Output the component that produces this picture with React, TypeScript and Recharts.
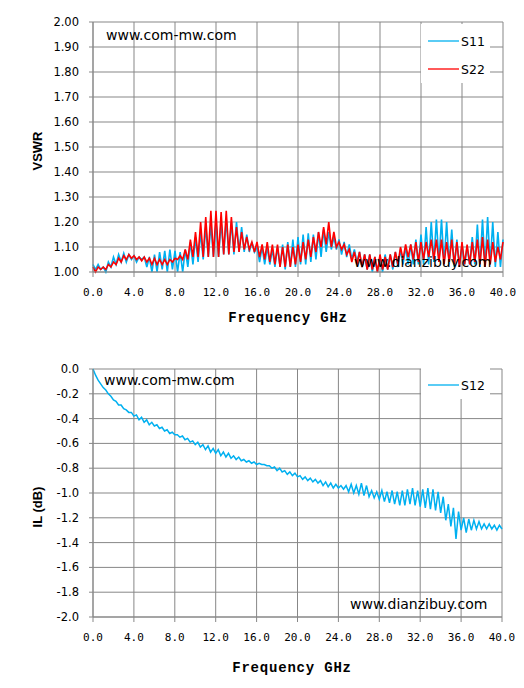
import React from 'react';
import { LineChart, Line, XAxis, YAxis, CartesianGrid, Legend } from 'recharts';

// Frequency axis: samples every 0.25 GHz from 0 to 40 GHz
const FREQ_START = 0;
const FREQ_STEP = 0.25;
const FREQ_TICKS = [0, 4, 8, 12, 16, 20, 24, 28, 32, 36, 40];
const VSWR_TICKS = [1.0, 1.1, 1.2, 1.3, 1.4, 1.5, 1.6, 1.7, 1.8, 1.9, 2.0];
const IL_TICKS = [0, -0.2, -0.4, -0.6, -0.8, -1.0, -1.2, -1.4, -1.6, -1.8, -2.0];

const S11 = [
  1.03, 1.01, 1.03, 1.01, 1.02, 1.00, 1.04, 1.02, 1.06, 1.03, 1.07, 1.04, 1.075, 1.04, 1.07, 1.05,
  1.065, 1.04, 1.06, 1.05, 1.06, 1.02, 1.06, 1.00, 1.07, 1.00, 1.08, 1.01, 1.085, 1.00, 1.09, 1.01,
  1.085, 1.00, 1.08, 1.00, 1.09, 1.02, 1.12, 1.03, 1.14, 1.04, 1.16, 1.05, 1.18, 1.06, 1.19, 1.06,
  1.20, 1.06, 1.20, 1.07, 1.21, 1.07, 1.20, 1.07, 1.20, 1.08, 1.18, 1.08, 1.15, 1.08, 1.12, 1.08,
  1.10, 1.04, 1.10, 1.03, 1.10, 1.03, 1.09, 1.02, 1.10, 1.02, 1.11, 1.01, 1.12, 1.02, 1.13, 1.02,
  1.14, 1.03, 1.15, 1.03, 1.155, 1.04, 1.15, 1.05, 1.16, 1.06, 1.17, 1.08, 1.16, 1.09, 1.14, 1.09,
  1.13, 1.07, 1.12, 1.06, 1.11, 1.05, 1.09, 1.04, 1.08, 1.02, 1.07, 1.01, 1.07, 1.00, 1.06, 1.00,
  1.06, 1.00, 1.07, 1.01, 1.07, 1.01, 1.08, 1.02, 1.09, 1.03, 1.10, 1.03, 1.11, 1.03, 1.13, 1.03,
  1.15, 1.03, 1.18, 1.03, 1.20, 1.04, 1.21, 1.04, 1.21, 1.03, 1.20, 1.03, 1.17, 1.02, 1.13, 1.02,
  1.11, 1.03, 1.10, 1.03, 1.14, 1.03, 1.19, 1.02, 1.21, 1.02, 1.22, 1.03, 1.20, 1.02, 1.16, 1.02,
  1.13,
];

const S22 = [
  1.02, 1.00, 1.02, 1.01, 1.02, 1.01, 1.03, 1.02, 1.04, 1.03, 1.055, 1.04, 1.065, 1.05, 1.07, 1.055,
  1.065, 1.05, 1.06, 1.045, 1.06, 1.04, 1.055, 1.03, 1.055, 1.03, 1.05, 1.03, 1.05, 1.03, 1.05, 1.04,
  1.055, 1.05, 1.065, 1.05, 1.09, 1.05, 1.13, 1.06, 1.16, 1.06, 1.20, 1.06, 1.22, 1.06, 1.245, 1.06,
  1.245, 1.06, 1.24, 1.07, 1.245, 1.07, 1.22, 1.08, 1.18, 1.08, 1.16, 1.09, 1.14, 1.09, 1.12, 1.08,
  1.12, 1.06, 1.11, 1.05, 1.12, 1.04, 1.11, 1.03, 1.11, 1.02, 1.10, 1.02, 1.11, 1.02, 1.10, 1.03,
  1.11, 1.04, 1.12, 1.05, 1.13, 1.06, 1.14, 1.08, 1.16, 1.10, 1.18, 1.11, 1.20, 1.10, 1.16, 1.10,
  1.12, 1.09, 1.11, 1.07, 1.09, 1.04, 1.08, 1.03, 1.08, 1.02, 1.07, 1.01, 1.07, 1.01, 1.06, 1.00,
  1.07, 1.01, 1.06, 1.01, 1.07, 1.02, 1.08, 1.03, 1.10, 1.05, 1.11, 1.06, 1.11, 1.05, 1.12, 1.04,
  1.12, 1.05, 1.12, 1.06, 1.13, 1.05, 1.13, 1.04, 1.13, 1.03, 1.12, 1.04, 1.13, 1.03, 1.12, 1.02,
  1.12, 1.03, 1.11, 1.03, 1.12, 1.04, 1.13, 1.03, 1.14, 1.02, 1.13, 1.03, 1.12, 1.04, 1.10, 1.05,
  1.12,
];

const S12 = [
  0.00, -0.05, -0.09, -0.12, -0.15, -0.17, -0.20, -0.22, -0.25, -0.26, -0.29, -0.29, -0.32, -0.33, -0.35, -0.35,
  -0.38, -0.37, -0.41, -0.39, -0.43, -0.41, -0.45, -0.43, -0.46, -0.45, -0.48, -0.47, -0.50, -0.49, -0.52, -0.51,
  -0.53, -0.53, -0.55, -0.54, -0.57, -0.56, -0.59, -0.58, -0.61, -0.59, -0.63, -0.61, -0.65, -0.62, -0.67, -0.64,
  -0.68, -0.65, -0.70, -0.67, -0.71, -0.68, -0.72, -0.70, -0.73, -0.71, -0.74, -0.73, -0.75, -0.74, -0.76, -0.75,
  -0.77, -0.76, -0.77, -0.77, -0.78, -0.78, -0.80, -0.79, -0.82, -0.80, -0.83, -0.82, -0.85, -0.83, -0.86, -0.84,
  -0.87, -0.86, -0.89, -0.87, -0.90, -0.88, -0.91, -0.89, -0.92, -0.90, -0.94, -0.91, -0.95, -0.92, -0.96, -0.93,
  -0.96, -0.94, -0.97, -0.94, -0.99, -0.93, -1.00, -0.94, -1.01, -0.92, -1.02, -0.94, -1.03, -0.98, -1.04, -0.99,
  -1.05, -0.98, -1.07, -0.99, -1.08, -0.98, -1.09, -0.99, -1.10, -0.98, -1.10, -0.97, -1.09, -0.96, -1.10, -0.98,
  -1.11, -0.97, -1.12, -0.96, -1.13, -0.97, -1.14, -0.99, -1.16, -1.03, -1.22, -1.09, -1.27, -1.12, -1.37, -1.15,
  -1.30, -1.20, -1.32, -1.21, -1.30, -1.22, -1.29, -1.23, -1.29, -1.25, -1.29, -1.25, -1.29, -1.26, -1.30, -1.26,
  -1.29,
];

const BLUE = '#00B0F0';
const RED = '#FF0000';
const GRID = '#878787';

const vswrData = S11.map((v, i) => ({ f: FREQ_START + i * FREQ_STEP, s11: v, s22: S22[i] }));
const ilData = S12.map((v, i) => ({ f: FREQ_START + i * FREQ_STEP, s12: v }));

const yTickStyle = { fill: '#000', fontSize: 11.5, fontFamily: 'DejaVu Sans' };
const xTickStyle = { fill: '#000', fontSize: 11, fontFamily: 'DejaVu Sans Mono' };
const watermarkStyle: React.CSSProperties = { fontFamily: 'DejaVu Sans', fontSize: 14, fill: '#000' };

const freqTitle = (x: number, y: number) => () => (
  <text x={x} y={y} textAnchor="middle" fontFamily="Liberation Mono" fontWeight="bold" fontSize={14} letterSpacing={0.8} fill="#000">
    Frequency GHz
  </text>
);

const yTitle = (text: string, x: number, y: number) => () => (
  <text x={x} y={y} transform={`rotate(-90, ${x}, ${y})`} textAnchor="middle" dominantBaseline="central" fontFamily="Liberation Sans" fontWeight="bold" fontSize={13} fill="#000">
    {text}
  </text>
);

const makeLegend = (items: { name: string; color: string }[], rowGap: number) => () => (
  <div style={{ background: '#fff', width: '100%', height: '100%', paddingTop: 8, boxSizing: 'border-box' }}>
    {items.map((it) => (
      <div key={it.name} style={{ display: 'flex', alignItems: 'center', height: 18, marginBottom: rowGap - 18 }}>
        <svg width={40} height={18} style={{ display: 'block' }}>
          <line x1={7} y1={9} x2={38} y2={9} stroke={it.color} strokeWidth={1.3} />
        </svg>
        <span style={{ fontFamily: 'DejaVu Sans', fontSize: 12.5, color: '#000' }}>{it.name}</span>
      </div>
    ))}
  </div>
);

export default function App() {
  return (
    <div style={{ position: 'absolute', left: 0, top: 0, width: 524, height: 688, background: '#fff' }}>
      <div style={{ position: 'absolute', left: 0, top: 0 }}>
        <LineChart width={524} height={344} data={vswrData} margin={{ top: 22, right: 21, bottom: 0, left: 0 }}>
          <CartesianGrid stroke={GRID} strokeWidth={1} />
          <XAxis
            dataKey="f"
            type="number"
            domain={[0, 40]}
            ticks={FREQ_TICKS}
            interval={0}
            tickFormatter={(v: number) => v.toFixed(1)}
            height={72}
            tickSize={5}
            tickMargin={11}
            stroke={GRID}
            tick={xTickStyle}
            label={{ content: freqTitle(288, 322) }}
          />
          <YAxis
            type="number"
            domain={[1, 2]}
            ticks={VSWR_TICKS}
            interval={0}
            tickFormatter={(v: number) => v.toFixed(2)}
            width={93}
            tickSize={4}
            tickMargin={10}
            stroke={GRID}
            tick={yTickStyle}
            label={{ content: yTitle('VSWR', 37, 151) }}
          />
          <Legend
            layout="horizontal"
            verticalAlign="middle"
            align="center"
            content={makeLegend([{ name: 'S11', color: BLUE }, { name: 'S22', color: RED }], 28)}
            wrapperStyle={{ position: 'absolute', left: 421, top: 24, width: 69, height: 59 }}
          />
          <Line dataKey="s11" name="S11" type="linear" stroke={BLUE} strokeWidth={1.6} dot={false} isAnimationActive={false} />
          <Line dataKey="s22" name="S22" type="linear" stroke={RED} strokeWidth={1.6} dot={false} isAnimationActive={false} />
        </LineChart>
        <svg width={524} height={344} style={{ position: 'absolute', left: 0, top: 0, pointerEvents: 'none' }}>
          <text x={106} y={40} style={watermarkStyle}>www.com-mw.com</text>
          <text x={354} y={267} style={watermarkStyle}>www.dianzibuy.com</text>
        </svg>
      </div>
      <div style={{ position: 'absolute', left: 0, top: 344 }}>
        <LineChart width={524} height={344} data={ilData} margin={{ top: 25, right: 22, bottom: 0, left: 0 }}>
          <CartesianGrid stroke={GRID} strokeWidth={1} />
          <XAxis
            dataKey="f"
            type="number"
            domain={[0, 40]}
            ticks={FREQ_TICKS}
            interval={0}
            tickFormatter={(v: number) => v.toFixed(1)}
            height={71}
            tickSize={5}
            tickMargin={11}
            stroke={GRID}
            tick={xTickStyle}
            label={{ content: freqTitle(292, 328) }}
          />
          <YAxis
            type="number"
            domain={[-2, 0]}
            ticks={IL_TICKS}
            interval={0}
            tickFormatter={(v: number) => (Math.abs(v) < 1e-9 ? '0.0' : v.toFixed(1))}
            width={93}
            tickSize={4}
            tickMargin={10}
            stroke={GRID}
            tick={yTickStyle}
            label={{ content: yTitle('IL (dB)', 37, 163) }}
          />
          <Legend
            layout="horizontal"
            verticalAlign="middle"
            align="center"
            content={makeLegend([{ name: 'S12', color: BLUE }], 28)}
            wrapperStyle={{ position: 'absolute', left: 421, top: 24, width: 69, height: 31 }}
          />
          <Line dataKey="s12" name="S12" type="linear" stroke={BLUE} strokeWidth={1.5} dot={false} isAnimationActive={false} />
        </LineChart>
        <svg width={524} height={344} style={{ position: 'absolute', left: 0, top: 0, pointerEvents: 'none' }}>
          <text x={104} y={41} style={watermarkStyle}>www.com-mw.com</text>
          <text x={350} y={265} style={watermarkStyle}>www.dianzibuy.com</text>
        </svg>
      </div>
    </div>
  );
}
